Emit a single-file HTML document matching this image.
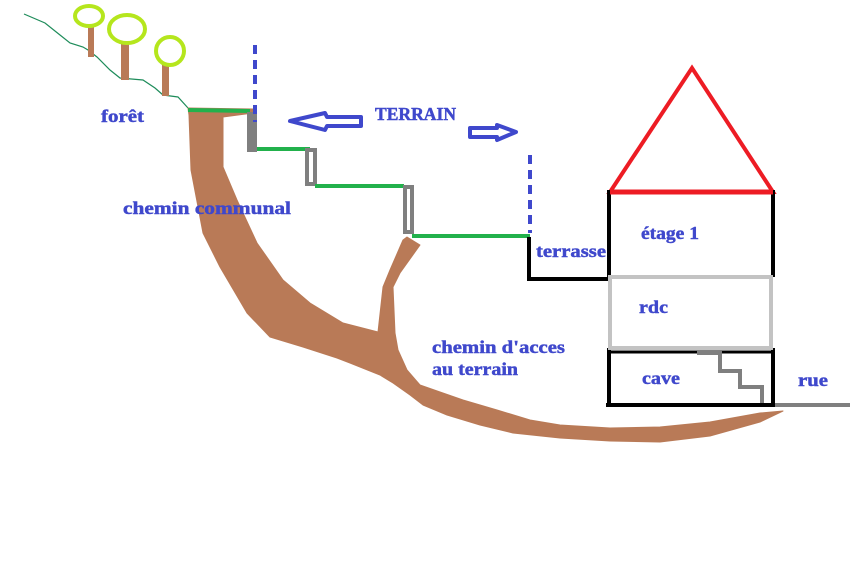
<!DOCTYPE html>
<html><head><meta charset="utf-8"><style>
html,body{margin:0;padding:0;background:#fff;}
svg{display:block;}
text{font-family:"Liberation Serif",serif;font-weight:bold;fill:#3f48cc;stroke:#3f48cc;stroke-width:0.45;font-size:18px;}
</style></head><body>
<svg width="861" height="576" viewBox="0 0 861 576" xmlns="http://www.w3.org/2000/svg">
<rect width="861" height="576" fill="#fff"/>
<!-- ground line -->
<polyline points="24,14 45,23 60,35 70,43 83,47 88,50 97,57 110,70 120,78 143,80 155,88 163,95 178,97 188,108" fill="none" stroke="#1e8c5a" stroke-width="1.2"/>
<!-- trees -->
<rect x="88" y="26" width="6" height="31" fill="#b97a57"/>
<rect x="121" y="43" width="8" height="37" fill="#b97a57"/>
<rect x="162" y="64" width="7" height="32" fill="#b97a57"/>
<ellipse cx="89" cy="16" rx="14" ry="10" fill="#fff" stroke="#b5e61d" stroke-width="4"/>
<ellipse cx="127" cy="29" rx="18" ry="14" fill="#fff" stroke="#b5e61d" stroke-width="4"/>
<ellipse cx="170" cy="51" rx="14" ry="14" fill="#fff" stroke="#b5e61d" stroke-width="4"/>
<!-- brown path -->
<polygon fill="#b97a57" stroke="#b97a57" stroke-width="1" stroke-linejoin="round" points="188,108 253,109 253,113 223,117 223,167 237,200 257,243 283,280 310,303 343,323 378,332 383,287 390,270 403,240 407,237 420,245 400,273 393,287 395,333 398,350 407,370 420,385 440,392 463,400 497,410 530,420 560,425 610,428 660,427 710,422 760,413 783,411 760,422 710,436 660,442 610,441 560,438 513,433 480,425 447,415 423,405 410,395 393,383 380,375 350,363 337,358 303,347 270,337 247,313 220,267 203,233 191,170 189,115"/>
<!-- terraces -->
<line x1="188" y1="110" x2="250" y2="111" stroke="#22b14c" stroke-width="4"/>
<rect x="247" y="112" width="10" height="40" fill="#7f7f7f"/>
<line x1="257" y1="149" x2="310" y2="149" stroke="#22b14c" stroke-width="4"/>
<rect x="307" y="150" width="8" height="34" fill="#fff" stroke="#7f7f7f" stroke-width="4"/>
<line x1="315" y1="186" x2="404" y2="186" stroke="#22b14c" stroke-width="4"/>
<rect x="405" y="187" width="7" height="45" fill="#fff" stroke="#7f7f7f" stroke-width="4"/>
<line x1="412" y1="236" x2="530" y2="236" stroke="#22b14c" stroke-width="4"/>
<polyline points="529,237 529,279 610,279" fill="none" stroke="#000" stroke-width="4"/>
<!-- dashed blue -->
<line x1="255" y1="45" x2="255" y2="122" stroke="#3f48cc" stroke-width="4" stroke-dasharray="9 6"/>
<line x1="530" y1="155" x2="530" y2="233" stroke="#3f48cc" stroke-width="4" stroke-dasharray="9 6"/>
<!-- arrows -->
<polygon points="290,121 325,113 327,117 361,117 361,126 327,126 325,130" fill="#fff" stroke="#3f48cc" stroke-width="4" stroke-linejoin="round"/>
<polygon points="470,128 497,128 497,125 516,132 497,140 497,137 470,137" fill="#fff" stroke="#3f48cc" stroke-width="4" stroke-linejoin="round"/>
<!-- house -->
<polygon points="610,192 692,68 773,192" fill="none" stroke="#ed1c24" stroke-width="4"/>
<line x1="609" y1="190" x2="609" y2="277" stroke="#000" stroke-width="4"/>
<line x1="773" y1="190" x2="773" y2="277" stroke="#000" stroke-width="4"/>
<line x1="609" y1="348" x2="609" y2="407" stroke="#000" stroke-width="4"/>
<line x1="773" y1="348" x2="773" y2="407" stroke="#000" stroke-width="4"/>
<line x1="610" y1="192" x2="773" y2="192" stroke="#ed1c24" stroke-width="5"/>
<rect x="610" y="277" width="161" height="71" fill="none" stroke="#c3c3c3" stroke-width="4"/>
<line x1="609" y1="352" x2="773" y2="352" stroke="#000" stroke-width="3"/>
<line x1="606" y1="405" x2="775" y2="405" stroke="#000" stroke-width="4"/>
<polyline points="697,353 720,353 720,371 740,371 740,387 762,387 762,403" fill="none" stroke="#7f7f7f" stroke-width="4"/>
<line x1="775" y1="405" x2="850" y2="405" stroke="#7f7f7f" stroke-width="4"/>
<!-- labels -->
<text x="101" y="122" textLength="43" lengthAdjust="spacingAndGlyphs">forêt</text>
<text x="123" y="214" textLength="168" lengthAdjust="spacingAndGlyphs">chemin communal</text>
<text x="375" y="120" textLength="81" lengthAdjust="spacingAndGlyphs">TERRAIN</text>
<text x="536" y="257" textLength="70" lengthAdjust="spacingAndGlyphs">terrasse</text>
<text x="641" y="239" textLength="58" lengthAdjust="spacingAndGlyphs">étage 1</text>
<text x="639" y="313" textLength="29" lengthAdjust="spacingAndGlyphs">rdc</text>
<text x="642" y="384" textLength="38" lengthAdjust="spacingAndGlyphs">cave</text>
<text x="798" y="386" textLength="30" lengthAdjust="spacingAndGlyphs">rue</text>
<text x="432" y="353" textLength="133" lengthAdjust="spacingAndGlyphs">chemin d'acces</text>
<text x="432" y="375" textLength="86" lengthAdjust="spacingAndGlyphs">au terrain</text>
</svg>
</body></html>
